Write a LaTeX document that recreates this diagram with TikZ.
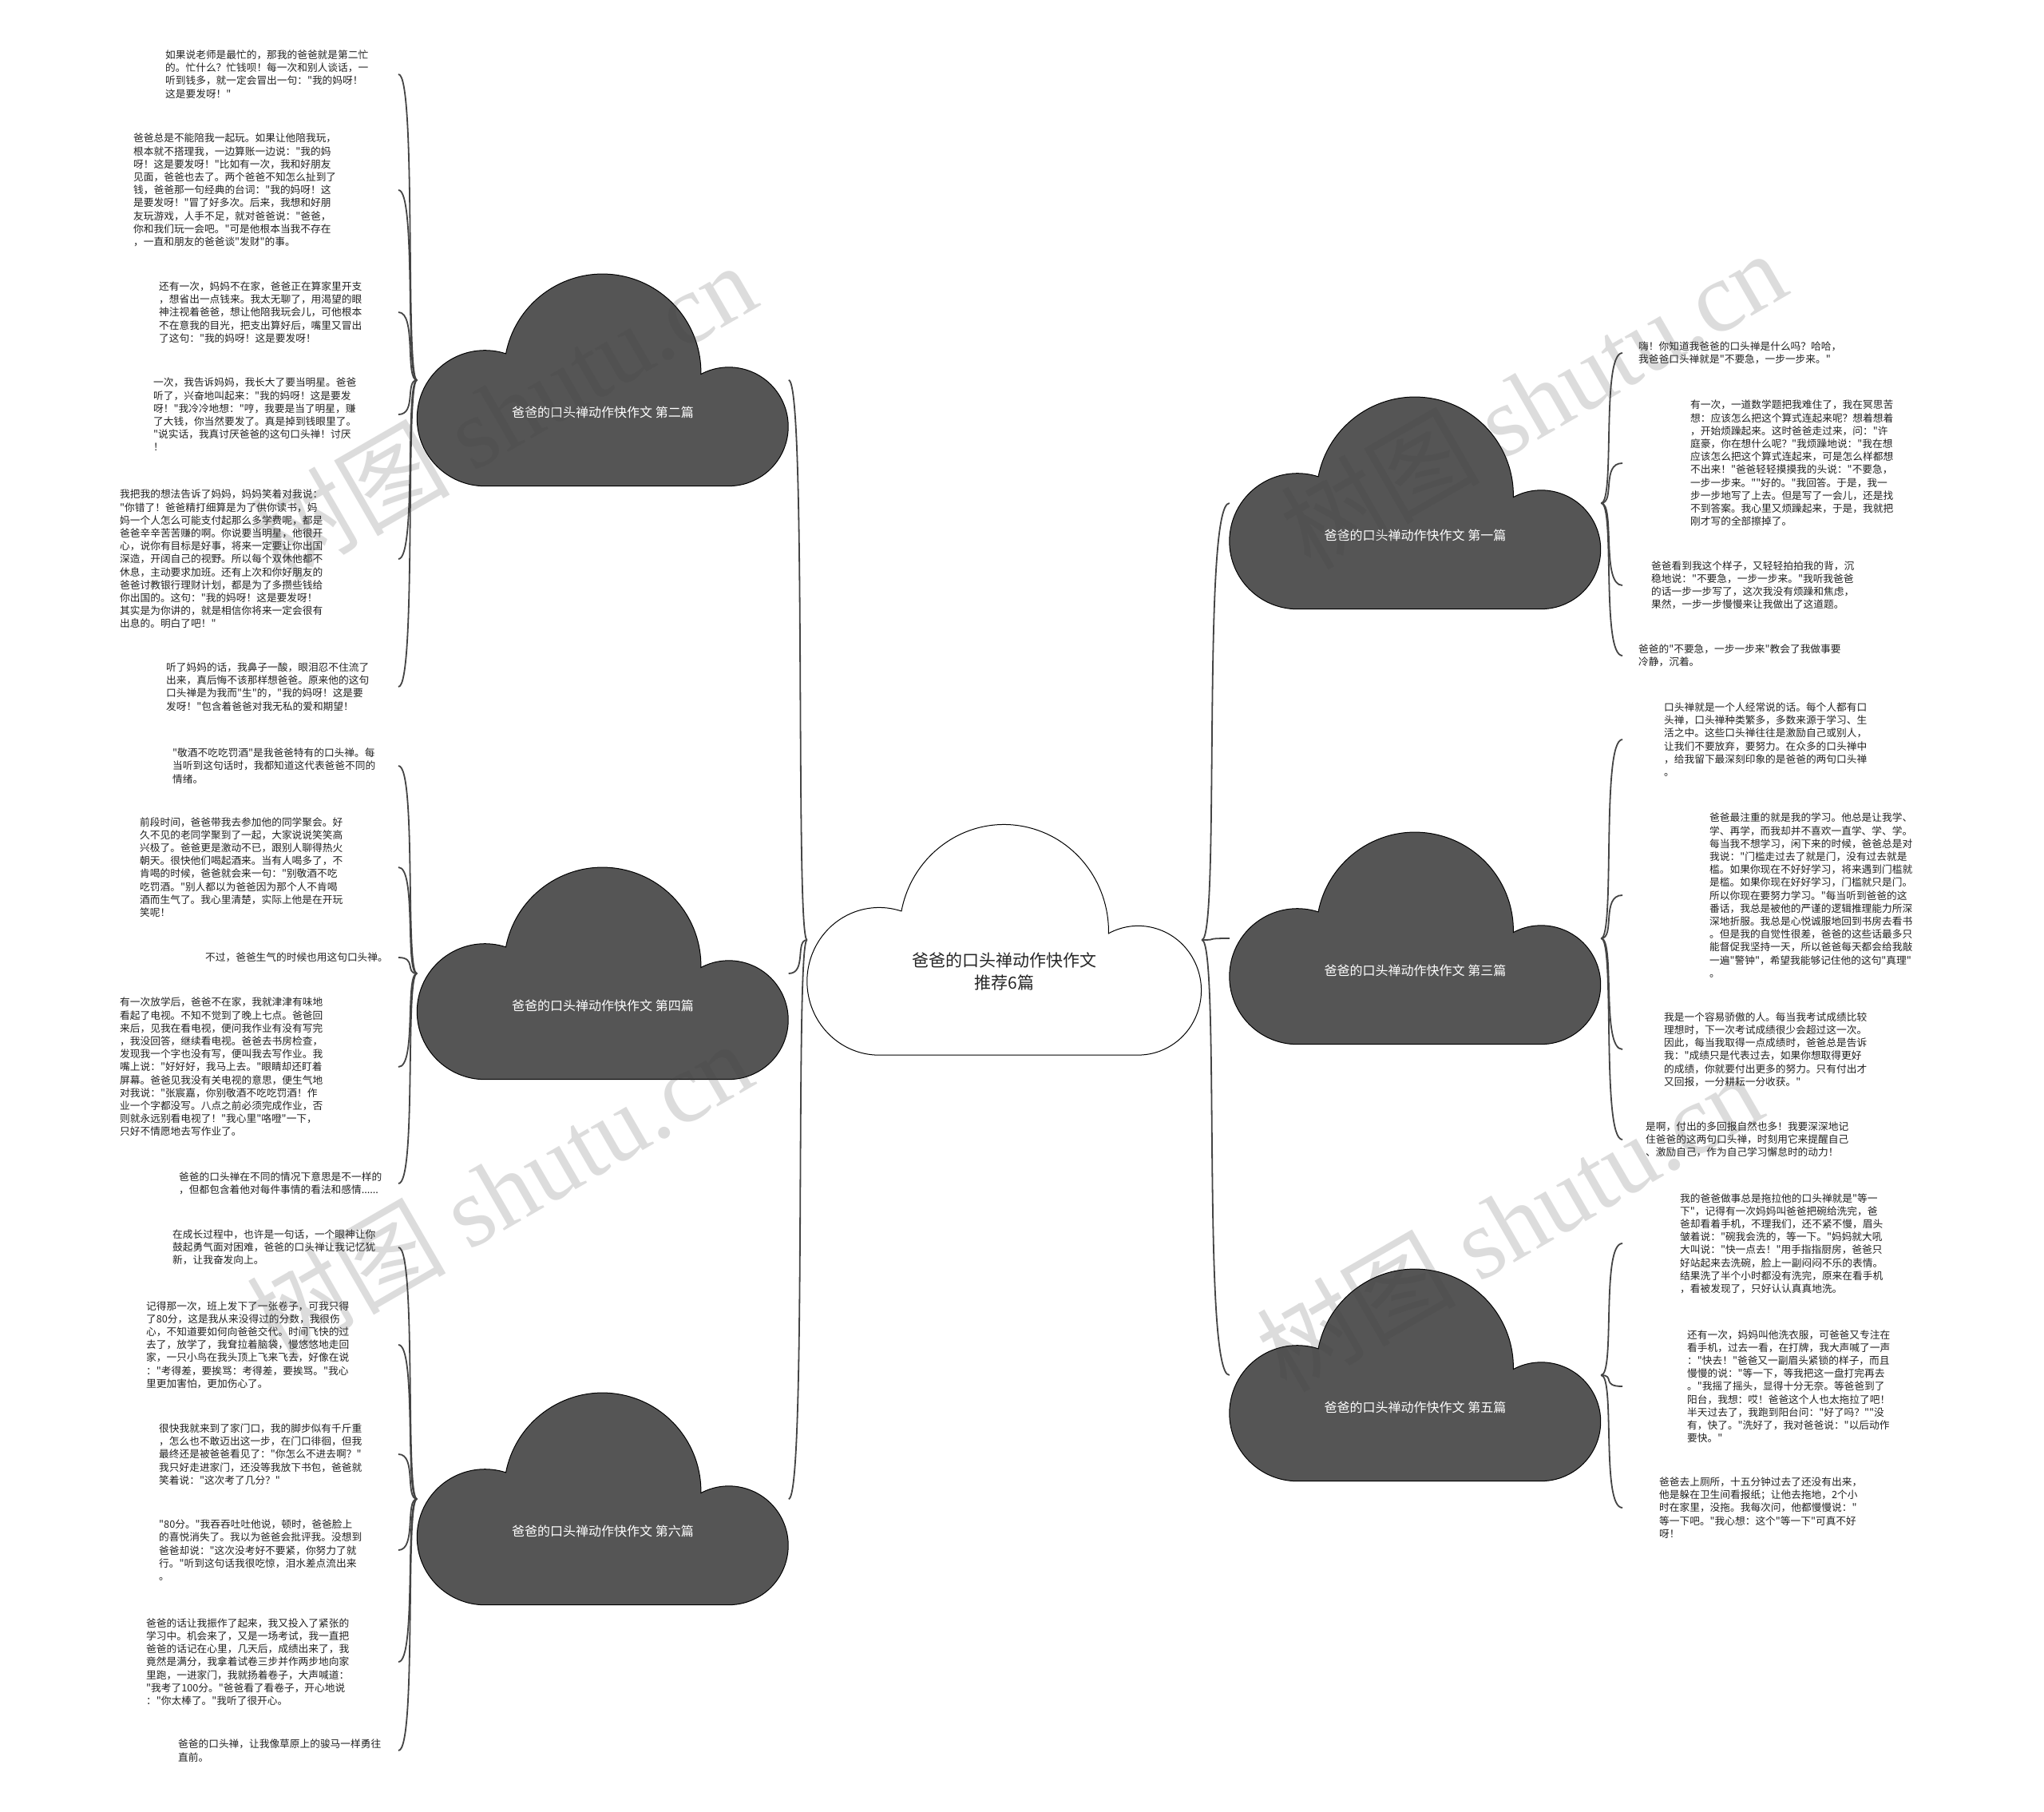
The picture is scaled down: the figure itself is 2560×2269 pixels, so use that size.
\documentclass[tikz,border=0pt]{standalone}
\usepackage{fontspec}
\setmainfont{Noto Sans CJK SC}[Ligatures=TeXOff]
\newfontfamily\wmlatin{Liberation Serif}
\usepackage{tikz}
\definecolor{cloudgray}{HTML}{555555}
\definecolor{linkgray}{HTML}{444444}
\definecolor{leafink}{HTML}{222222}
\tikzset{
  cloudbox/.style={
    rectangle,
    inner sep=0pt,
    minimum width=465pt,
    minimum height=265pt
  },
  topicbox/.style={
    rectangle,
    inner sep=0pt,
    minimum width=494pt,
    minimum height=288pt
  },
  darkcloud/.style={fill=cloudgray, draw=black, line width=1pt},
  topiccloud/.style={fill=white, draw=black, line width=1pt},
  cloudtitle/.style={
    text=white,
    inner sep=0pt,
    font=\fontsize{16}{20}\selectfont
  },
  topictitle/.style={
    text=black!85,
    align=center,
    inner sep=0pt,
    font=\fontsize{21}{28}\selectfont
  },
  leaf/.style={
    anchor=west,
    align=left,
    inner sep=0pt,
    text=leafink,
    font=\fontsize{12.7}{16.2}\selectfont
  },
  link/.style={draw=linkgray, line width=1.8pt},
  bracket/.style={to path={.. controls +({2*#1/3},0) and +({-#1},0) .. (\tikztotarget)}},
  watermark/.style={
    rotate=30,
    inner sep=0pt,
    text=black!75,
    text opacity=0.18,
    font=\fontsize{125}{125}\selectfont
  }
}
\newcommand{\cloudpath}[1]{%
  \draw[#1] (85,0) arc[start angle=270, end angle=72, radius=85]
    arc[start angle=169, end angle=-1, radius=123.3]
    arc[start angle=118, end angle=-90, radius=74.4] -- cycle;}

\begin{document}
\begin{tikzpicture}[x=1pt, y=1pt]
  \useasboundingbox (0,0) rectangle (2560,-2269);
  \fill[white] (0,0) rectangle (2560,-2269);

  % topic and the six essays
  \node[topicbox] (topic) at (1258,-1177) {};
  \begin{scope}[shift={(topic.south west)}, xscale=1.062, yscale=1.087]
    \cloudpath{topiccloud}
  \end{scope}
  \node[topictitle] (topictext) at ([yshift=105pt]topic.south)
        {爸爸的口头禅动作快作文\\推荐6篇};

  \node[cloudbox] (pian2) at (755,-476) {};
  \node[cloudbox] (pian4) at (755,-1219) {};
  \node[cloudbox] (pian6) at (755,-1877) {};
  \node[cloudbox] (pian1) at (1772.5,-630) {};
  \node[cloudbox] (pian3) at (1772.5,-1175) {};
  \node[cloudbox] (pian5) at (1772.5,-1722) {};

  \begin{scope}[shift={(pian2.south west)}] \cloudpath{darkcloud} \end{scope}
  \begin{scope}[shift={(pian4.south west)}] \cloudpath{darkcloud} \end{scope}
  \begin{scope}[shift={(pian6.south west)}] \cloudpath{darkcloud} \end{scope}
  \begin{scope}[shift={(pian1.south west)}] \cloudpath{darkcloud} \end{scope}
  \begin{scope}[shift={(pian3.south west)}] \cloudpath{darkcloud} \end{scope}
  \begin{scope}[shift={(pian5.south west)}] \cloudpath{darkcloud} \end{scope}

  \node[cloudtitle] (pian2text) at ([yshift=92pt]pian2.south) {爸爸的口头禅动作快作文 第二篇};
  \node[cloudtitle] (pian4text) at ([yshift=92pt]pian4.south) {爸爸的口头禅动作快作文 第四篇};
  \node[cloudtitle] (pian6text) at ([yshift=92pt]pian6.south) {爸爸的口头禅动作快作文 第六篇};
  \node[cloudtitle] (pian1text) at ([yshift=92pt]pian1.south) {爸爸的口头禅动作快作文 第一篇};
  \node[cloudtitle] (pian3text) at ([yshift=92pt]pian3.south) {爸爸的口头禅动作快作文 第三篇};
  \node[cloudtitle] (pian5text) at ([yshift=92pt]pian5.south) {爸爸的口头禅动作快作文 第五篇};

  % left paragraphs
  \node[leaf] (pian2a) at (207,-93)
        {如果说老师是最忙的，那我的爸爸就是第二忙\\的。忙什么？忙钱呗！每一次和别人谈话，一\\听到钱多，就一定会冒出一句："我的妈呀！\\这是要发呀！"};
  \node[leaf] (pian2b) at (167,-238)
        {爸爸总是不能陪我一起玩。如果让他陪我玩，\\根本就不搭理我，一边算账一边说："我的妈\\呀！这是要发呀！"比如有一次，我和好朋友\\见面，爸爸也去了。两个爸爸不知怎么扯到了\\钱，爸爸那一句经典的台词："我的妈呀！这\\是要发呀！"冒了好多次。后来，我想和好朋\\友玩游戏，人手不足，就对爸爸说："爸爸，\\你和我们玩一会吧。"可是他根本当我不存在\\，一直和朋友的爸爸谈"发财"的事。};
  \node[leaf] (pian2c) at (199,-391)
        {还有一次，妈妈不在家，爸爸正在算家里开支\\，想省出一点钱来。我太无聊了，用渴望的眼\\神注视着爸爸，想让他陪我玩会儿，可他根本\\不在意我的目光，把支出算好后，嘴里又冒出\\了这句："我的妈呀！这是要发呀！};
  \node[leaf] (pian2d) at (192,-519)
        {一次，我告诉妈妈，我长大了要当明星。爸爸\\听了，兴奋地叫起来："我的妈呀！这是要发\\呀！"我冷冷地想："哼，我要是当了明星，赚\\了大钱，你当然要发了。真是掉到钱眼里了。\\"说实话，我真讨厌爸爸的这句口头禅！讨厌\\！};
  \node[leaf] (pian2e) at (150,-700)
        {我把我的想法告诉了妈妈，妈妈笑着对我说：\\"你错了！爸爸精打细算是为了供你读书，妈\\妈一个人怎么可能支付起那么多学费呢，都是\\爸爸辛辛苦苦赚的啊。你说要当明星，他很开\\心，说你有目标是好事，将来一定要让你出国\\深造，开阔自己的视野。所以每个双休他都不\\休息，主动要求加班。还有上次和你好朋友的\\爸爸讨教银行理财计划，都是为了多攒些钱给\\你出国的。这句："我的妈呀！这是要发呀！\\其实是为你讲的，就是相信你将来一定会很有\\出息的。明白了吧！"};
  \node[leaf] (pian2f) at (208,-860)
        {听了妈妈的话，我鼻子一酸，眼泪忍不住流了\\出来，真后悔不该那样想爸爸。原来他的这句\\口头禅是为我而"生"的，"我的妈呀！这是要\\发呀！"包含着爸爸对我无私的爱和期望！};

  \node[leaf] (pian4a) at (216,-959)
        {"敬酒不吃吃罚酒"是我爸爸特有的口头禅。每\\当听到这句话时，我都知道这代表爸爸不同的\\情绪。};
  \node[leaf] (pian4b) at (175,-1086)
        {前段时间，爸爸带我去参加他的同学聚会。好\\久不见的老同学聚到了一起，大家说说笑笑高\\兴极了。爸爸更是激动不已，跟别人聊得热火\\朝天。很快他们喝起酒来。当有人喝多了，不\\肯喝的时候，爸爸就会来一句："别敬酒不吃\\吃罚酒。"别人都以为爸爸因为那个人不肯喝\\酒而生气了。我心里清楚，实际上他是在开玩\\笑呢！};
  \node[leaf] (pian4c) at (257,-1199)
        {不过，爸爸生气的时候也用这句口头禅。};
  \node[leaf] (pian4d) at (150,-1336)
        {有一次放学后，爸爸不在家，我就津津有味地\\看起了电视。不知不觉到了晚上七点。爸爸回\\来后，见我在看电视，便问我作业有没有写完\\，我没回答，继续看电视。爸爸去书房检查，\\发现我一个字也没有写，便叫我去写作业。我\\嘴上说："好好好，我马上去。"眼睛却还盯着\\屏幕。爸爸见我没有关电视的意思，便生气地\\对我说："张宸嘉，你别敬酒不吃吃罚酒！作\\业一个字都没写。八点之前必须完成作业，否\\则就永远别看电视了！"我心里"咯噔"一下，\\只好不情愿地去写作业了。};
  \node[leaf] (pian4e) at (224,-1482)
        {爸爸的口头禅在不同的情况下意思是不一样的\\，但都包含着他对每件事情的看法和感情......};

  \node[leaf] (pian6a) at (216,-1562)
        {在成长过程中，也许是一句话，一个眼神让你\\鼓起勇气面对困难，爸爸的口头禅让我记忆犹\\新，让我奋发向上。};
  \node[leaf] (pian6b) at (183,-1684)
        {记得那一次，班上发下了一张卷子，可我只得\\了80分，这是我从来没得过的分数，我很伤\\心，不知道要如何向爸爸交代。时间飞快的过\\去了，放学了，我耷拉着脑袋，慢悠悠地走回\\家，一只小鸟在我头顶上飞来飞去，好像在说\\："考得差，要挨骂：考得差，要挨骂。"我心\\里更加害怕，更加伤心了。};
  \node[leaf] (pian6c) at (199,-1821)
        {很快我就来到了家门口，我的脚步似有千斤重\\，怎么也不敢迈出这一步，在门口徘徊，但我\\最终还是被爸爸看见了："你怎么不进去啊？"\\我只好走进家门，还没等我放下书包，爸爸就\\笑着说："这次考了几分？"};
  \node[leaf] (pian6d) at (199,-1941)
        {"80分。"我吞吞吐吐他说，顿时，爸爸脸上\\的喜悦消失了。我以为爸爸会批评我。没想到\\爸爸却说："这次没考好不要紧，你努力了就\\行。"听到这句话我很吃惊，泪水差点流出来\\。};
  \node[leaf] (pian6e) at (183,-2081)
        {爸爸的话让我振作了起来，我又投入了紧张的\\学习中。机会来了，又是一场考试，我一直把\\爸爸的话记在心里，几天后，成绩出来了，我\\竟然是满分，我拿着试卷三步并作两步地向家\\里跑，一进家门，我就扬着卷子，大声喊道：\\"我考了100分。"爸爸看了看卷子，开心地说\\："你太棒了。"我听了很开心。};
  \node[leaf] (pian6f) at (223,-2192)
        {爸爸的口头禅，让我像草原上的骏马一样勇往\\直前。};

  % right paragraphs
  \node[leaf] (pian1a) at (2052,-442)
        {嗨！你知道我爸爸的口头禅是什么吗？哈哈，\\我爸爸口头禅就是"不要急，一步一步来。"};
  \node[leaf] (pian1b) at (2117,-580)
        {有一次，一道数学题把我难住了，我在冥思苦\\想：应该怎么把这个算式连起来呢？想着想着\\，开始烦躁起来。这时爸爸走过来，问："许\\庭豪，你在想什么呢？"我烦躁地说："我在想\\应该怎么把这个算式连起来，可是怎么样都想\\不出来！"爸爸轻轻摸摸我的头说："不要急，\\一步一步来。""好的。"我回答。于是，我一\\步一步地写了上去。但是写了一会儿，还是找\\不到答案。我心里又烦躁起来，于是，我就把\\刚才写的全部擦掉了。};
  \node[leaf] (pian1c) at (2068,-733)
        {爸爸看到我这个样子，又轻轻拍拍我的背，沉\\稳地说："不要急，一步一步来。"我听我爸爸\\的话一步一步写了，这次我没有烦躁和焦虑，\\果然，一步一步慢慢来让我做出了这道题。};
  \node[leaf] (pian1d) at (2052,-821)
        {爸爸的"不要急，一步一步来"教会了我做事要\\冷静，沉着。};

  \node[leaf] (pian3a) at (2084,-926)
        {口头禅就是一个人经常说的话。每个人都有口\\头禅，口头禅种类繁多，多数来源于学习、生\\活之中。这些口头禅往往是激励自己或别人，\\让我们不要放弃，要努力。在众多的口头禅中\\，给我留下最深刻印象的是爸爸的两句口头禅\\。};
  \node[leaf] (pian3b) at (2141,-1121)
        {爸爸最注重的就是我的学习。他总是让我学、\\学、再学，而我却并不喜欢一直学、学、学。\\每当我不想学习，闲下来的时候，爸爸总是对\\我说："门槛走过去了就是门，没有过去就是\\槛。如果你现在不好好学习，将来遇到门槛就\\是槛。如果你现在好好学习，门槛就只是门。\\所以你现在要努力学习。"每当听到爸爸的这\\番话，我总是被他的严谨的逻辑推理能力所深\\深地折服。我总是心悦诚服地回到书房去看书\\。但是我的自觉性很差，爸爸的这些话最多只\\能督促我坚持一天，所以爸爸每天都会给我敲\\一遍"警钟"，希望我能够记住他的这句"真理"\\。};
  \node[leaf] (pian3c) at (2084,-1314)
        {我是一个容易骄傲的人。每当我考试成绩比较\\理想时，下一次考试成绩很少会超过这一次。\\因此，每当我取得一点成绩时，爸爸总是告诉\\我："成绩只是代表过去，如果你想取得更好\\的成绩，你就要付出更多的努力。只有付出才\\又回报，一分耕耘一分收获。"};
  \node[leaf] (pian3d) at (2061,-1427)
        {是啊，付出的多回报自然也多！我要深深地记\\住爸爸的这两句口头禅，时刻用它来提醒自己\\、激励自己，作为自己学习懈怠时的动力！};

  \node[leaf] (pian5a) at (2104,-1557)
        {我的爸爸做事总是拖拉他的口头禅就是"等一\\下"，记得有一次妈妈叫爸爸把碗给洗完，爸\\爸却看着手机，不理我们，还不紧不慢，眉头\\皱着说："碗我会洗的，等一下。"妈妈就大吼\\大叫说："快一点去！"用手指指厨房，爸爸只\\好站起来去洗碗，脸上一副闷闷不乐的表情。\\结果洗了半个小时都没有洗完，原来在看手机\\，看被发现了，只好认认真真地洗。};
  \node[leaf] (pian5b) at (2113,-1736)
        {还有一次，妈妈叫他洗衣服，可爸爸又专注在\\看手机，过去一看，在打牌，我大声喊了一声\\："快去！"爸爸又一副眉头紧锁的样子，而且\\慢慢的说："等一下，等我把这一盘打完再去\\。"我摇了摇头，显得十分无奈。等爸爸到了\\阳台，我想：哎！爸爸这个人也太拖拉了吧！\\半天过去了，我跑到阳台问："好了吗？""没\\有，快了。"洗好了，我对爸爸说："以后动作\\要快。"};
  \node[leaf] (pian5c) at (2078,-1888)
        {爸爸去上厕所，十五分钟过去了还没有出来，\\他是躲在卫生间看报纸；让他去拖地，2个小\\时在家里，没拖。我每次问，他都慢慢说："\\等一下吧。"我心想：这个"等一下"可真不好\\呀！};

  % connectors
  \coordinate (leftcol) at (499,0);
  \coordinate (rightcol) at (2032,0);

  \draw[link] (topic.west) to[bracket=-23] (pian2.east);
  \draw[link] (topic.west) to[bracket=-23] (pian4.east);
  \draw[link] (topic.west) to[bracket=-23] (pian6.east);
  \draw[link] (topic.east) to[bracket=35] (pian1.west);
  \draw[link] (topic.east) to[bracket=35] (pian3.west);
  \draw[link] (topic.east) to[bracket=35] (pian5.west);

  \draw[link] (pian2.west) to[bracket=-23] (pian2a.east -| leftcol);
  \draw[link] (pian2.west) to[bracket=-23] (pian2b.east -| leftcol);
  \draw[link] (pian2.west) to[bracket=-23] (pian2c.east -| leftcol);
  \draw[link] (pian2.west) to[bracket=-23] (pian2d.east -| leftcol);
  \draw[link] (pian2.west) to[bracket=-23] (pian2e.east -| leftcol);
  \draw[link] (pian2.west) to[bracket=-23] (pian2f.east -| leftcol);

  \draw[link] (pian4.west) to[bracket=-23] (pian4a.east -| leftcol);
  \draw[link] (pian4.west) to[bracket=-23] (pian4b.east -| leftcol);
  \draw[link] (pian4.west) to[bracket=-23] (pian4c.east -| leftcol);
  \draw[link] (pian4.west) to[bracket=-23] (pian4d.east -| leftcol);
  \draw[link] (pian4.west) to[bracket=-23] (pian4e.east -| leftcol);

  \draw[link] (pian6.west) to[bracket=-23] (pian6a.east -| leftcol);
  \draw[link] (pian6.west) to[bracket=-23] (pian6b.east -| leftcol);
  \draw[link] (pian6.west) to[bracket=-23] (pian6c.east -| leftcol);
  \draw[link] (pian6.west) to[bracket=-23] (pian6d.east -| leftcol);
  \draw[link] (pian6.west) to[bracket=-23] (pian6e.east -| leftcol);
  \draw[link] (pian6.west) to[bracket=-23] (pian6f.east -| leftcol);

  \draw[link] (pian1.east) to[bracket=27] (pian1a.west -| rightcol);
  \draw[link] (pian1.east) to[bracket=27] (pian1b.west -| rightcol);
  \draw[link] (pian1.east) to[bracket=27] (pian1c.west -| rightcol);
  \draw[link] (pian1.east) to[bracket=27] (pian1d.west -| rightcol);

  \draw[link] (pian3.east) to[bracket=27] (pian3a.west -| rightcol);
  \draw[link] (pian3.east) to[bracket=27] (pian3b.west -| rightcol);
  \draw[link] (pian3.east) to[bracket=27] (pian3c.west -| rightcol);
  \draw[link] (pian3.east) to[bracket=27] (pian3d.west -| rightcol);

  \draw[link] (pian5.east) to[bracket=27] (pian5a.west -| rightcol);
  \draw[link] (pian5.east) to[bracket=27] (pian5b.west -| rightcol);
  \draw[link] (pian5.east) to[bracket=27] (pian5c.west -| rightcol);

  % watermarks
  \node[watermark] (mark1) at (630,-515) {树图 {\wmlatin shutu.cn}};
  \node[watermark] (mark2) at (1920,-500) {树图 {\wmlatin shutu.cn}};
  \node[watermark] (mark3) at (625,-1490) {树图 {\wmlatin shutu.cn}};
  \node[watermark] (mark4) at (1890,-1530) {树图 {\wmlatin shutu.cn}};
\end{tikzpicture}
\end{document}
